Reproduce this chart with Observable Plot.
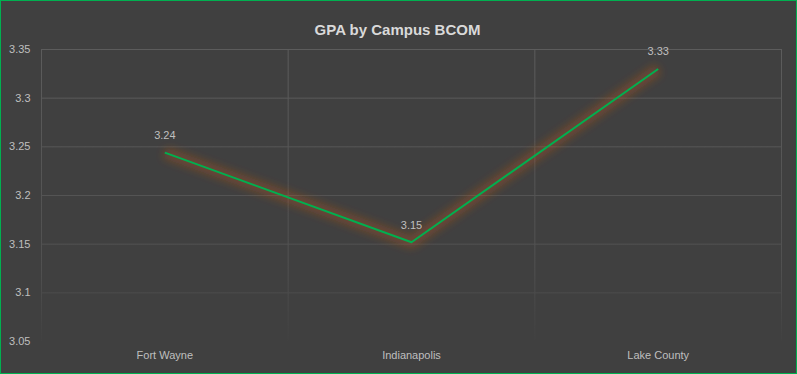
<!DOCTYPE html>
<html>
<head>
<meta charset="utf-8">
<script src="https://cdn.jsdelivr.net/npm/d3@7"></script>
<script src="https://cdn.jsdelivr.net/npm/@observablehq/plot@0.6"></script>
<style>
  html, body { margin: 0; padding: 0; background: #404040; }
  #wrap { width: 797px; height: 374px; box-sizing: border-box; border: 1px solid #00b050; background: #404040; overflow: hidden; }
</style>
</head>
<body>
<div id="wrap"></div>
<script>
const title = "GPA by Campus BCOM";
const campuses = ["Fort Wayne", "Indianapolis", "Lake County"];
const gpa = [3.244, 3.152, 3.33];
const yTicks = [3.05, 3.1, 3.15, 3.2, 3.25, 3.3, 3.35];

const rows = campuses.map((c, i) => ({campus: c, pos: i + 0.5, gpa: gpa[i], label: gpa[i].toFixed(2)}));
const bounds = d3.range(campuses.length + 1);
const centers = rows.map(d => d.pos);

const GLOW = "#b8531c";

const chart = Plot.plot({
  width: 795,
  height: 372,
  marginLeft: 40,
  marginRight: 15,
  marginTop: 48,
  marginBottom: 32,
  style: {background: "#404040", color: "#bfbfbf", fontFamily: "'Liberation Sans', Arial, sans-serif", fontSize: "11px"},
  x: {domain: [0, campuses.length]},
  y: {domain: [3.05, 3.35]},
  marks: [
    Plot.ruleY(yTicks.slice(1), {stroke: "url(#gridfade)", strokeWidth: 1}),
    Plot.ruleX(bounds, {stroke: "url(#gridfade)", strokeWidth: 1}),
    Plot.axisY({ticks: yTicks, tickFormat: d => String(d), tickSize: 0, tickPadding: 11, label: null, fill: "#bfbfbf", fontSize: 11}),
    Plot.axisX({ticks: centers, tickFormat: v => campuses[Math.floor(v)], tickSize: 0, tickPadding: 10, label: null, fill: "#bfbfbf", fontSize: 11}),
    Plot.line(rows, {x: "pos", y: "gpa", stroke: GLOW, strokeWidth: 11, strokeOpacity: 0.4, strokeLinecap: "butt"}),
    Plot.line(rows, {x: "pos", y: "gpa", stroke: "#00b050", strokeWidth: 2, strokeLinecap: "butt"}),
    Plot.text(rows, {x: "pos", y: "gpa", text: "label", dy: -17, fill: "#bfbfbf", fontSize: 11}),
    Plot.text([title], {frameAnchor: "top", dx: -14, dy: -25, text: d => d, fill: "#d9d9d9", fontSize: 15, fontWeight: "bold"})
  ]
});

// defs: gradient for fading gridlines, blur filter for glow
const ns = "http://www.w3.org/2000/svg";
const defs = document.createElementNS(ns, "defs");
defs.innerHTML = `
  <linearGradient id="gridfade" gradientUnits="userSpaceOnUse" x1="0" y1="48" x2="0" y2="340">
    <stop offset="0" stop-color="#5c5c5c"/>
    <stop offset="0.75" stop-color="#505050"/>
    <stop offset="1" stop-color="#414141"/>
  </linearGradient>
  <filter id="glow" x="-20%" y="-20%" width="140%" height="140%">
    <feGaussianBlur stdDeviation="4"/>
  </filter>`;
chart.insertBefore(defs, chart.firstChild);
chart.querySelectorAll(`[stroke="${GLOW}"]`).forEach(el => el.setAttribute("filter", "url(#glow)"));

document.getElementById("wrap").appendChild(chart);
</script>
</body>
</html>
